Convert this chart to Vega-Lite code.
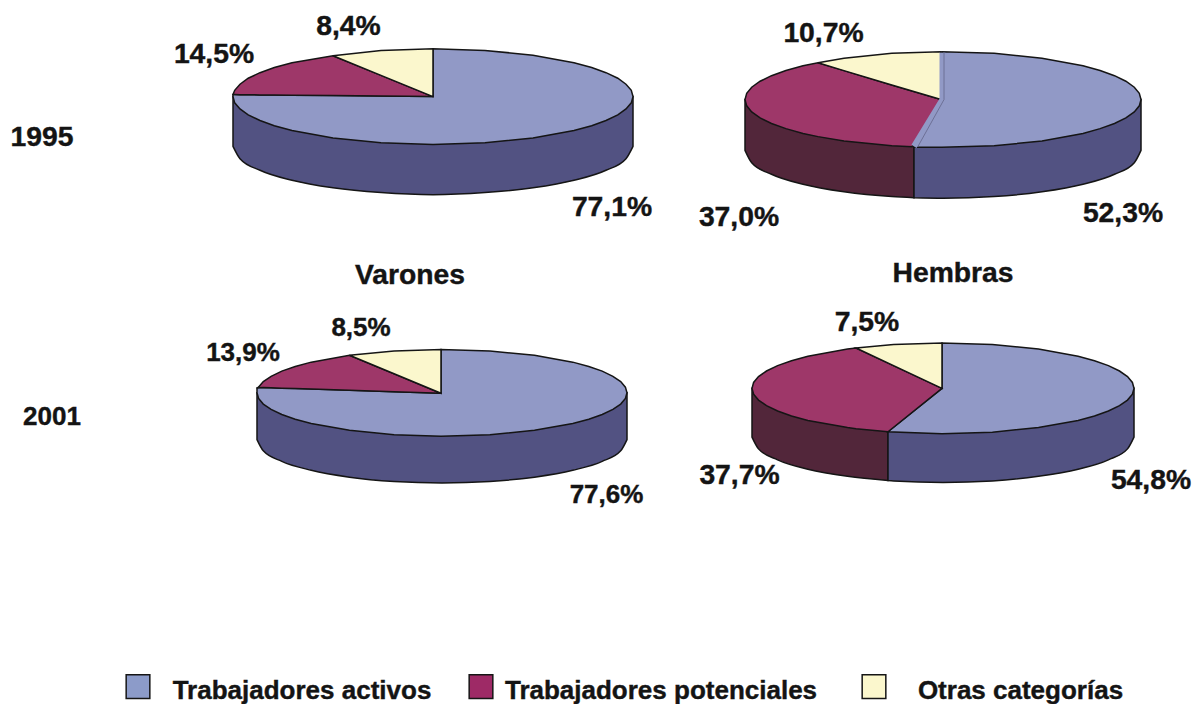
{"$schema":"https://vega.github.io/schema/vega-lite/v6.json","width":1193,"height":704,"padding":0,"autosize":{"type":"fit","contains":"padding"},"background":"white","config":{"view":{"stroke":null}},
"datasets":{
"sides":[
{"s":"V95a","c":"lado activos","x":233,"y":97,"y2":147},{"s":"V95a","c":"lado activos","x":240,"y":97,"y2":159.4},{"s":"V95a","c":"lado activos","x":260,"y":97,"y2":171},{"s":"V95a","c":"lado activos","x":292,"y":97,"y2":181},{"s":"V95a","c":"lado activos","x":333,"y":97,"y2":188.6},{"s":"V95a","c":"lado activos","x":381,"y":97,"y2":193.4},{"s":"V95a","c":"lado activos","x":433,"y":97,"y2":195.5},{"s":"V95a","c":"lado activos","x":485,"y":97,"y2":193.4},{"s":"V95a","c":"lado activos","x":533,"y":97,"y2":188.6},{"s":"V95a","c":"lado activos","x":574,"y":97,"y2":181},{"s":"V95a","c":"lado activos","x":606,"y":97,"y2":171},{"s":"V95a","c":"lado activos","x":626,"y":97,"y2":159.4},{"s":"V95a","c":"lado activos","x":633,"y":97,"y2":147},
{"s":"H95p","c":"lado potenciales","x":745,"y":100,"y2":151},{"s":"H95p","c":"lado potenciales","x":751.7,"y":100,"y2":163.4},{"s":"H95p","c":"lado potenciales","x":771.5,"y":100,"y2":175},{"s":"H95p","c":"lado potenciales","x":803,"y":100,"y2":185},{"s":"H95p","c":"lado potenciales","x":844,"y":100,"y2":192.6},{"s":"H95p","c":"lado potenciales","x":891.8,"y":100,"y2":197.4},{"s":"H95p","c":"lado potenciales","x":914,"y":100,"y2":198.5},
{"s":"H95a","c":"lado activos","x":914,"y":100,"y2":198.5},{"s":"H95a","c":"lado activos","x":943,"y":100,"y2":199},{"s":"H95a","c":"lado activos","x":994.2,"y":100,"y2":197.4},{"s":"H95a","c":"lado activos","x":1042,"y":100,"y2":192.6},{"s":"H95a","c":"lado activos","x":1083,"y":100,"y2":185},{"s":"H95a","c":"lado activos","x":1114.5,"y":100,"y2":175},{"s":"H95a","c":"lado activos","x":1134.3,"y":100,"y2":163.4},{"s":"H95a","c":"lado activos","x":1141,"y":100,"y2":151},
{"s":"V01a","c":"lado activos","x":257,"y":394.5,"y2":441.5},{"s":"V01a","c":"lado activos","x":263.3,"y":394.5,"y2":452.8},{"s":"V01a","c":"lado activos","x":281.8,"y":394.5,"y2":463.3},{"s":"V01a","c":"lado activos","x":311.2,"y":394.5,"y2":472.3},{"s":"V01a","c":"lado activos","x":349.5,"y":394.5,"y2":479.2},{"s":"V01a","c":"lado activos","x":394.1,"y":394.5,"y2":483.5},{"s":"V01a","c":"lado activos","x":442,"y":394.5,"y2":485},{"s":"V01a","c":"lado activos","x":489.9,"y":394.5,"y2":483.5},{"s":"V01a","c":"lado activos","x":534.5,"y":394.5,"y2":479.2},{"s":"V01a","c":"lado activos","x":572.8,"y":394.5,"y2":472.3},{"s":"V01a","c":"lado activos","x":602.2,"y":394.5,"y2":463.3},{"s":"V01a","c":"lado activos","x":620.7,"y":394.5,"y2":452.8},{"s":"V01a","c":"lado activos","x":627,"y":394.5,"y2":441.5},
{"s":"H01p","c":"lado potenciales","x":752,"y":390,"y2":439},{"s":"H01p","c":"lado potenciales","x":758.5,"y":390,"y2":450.8},{"s":"H01p","c":"lado potenciales","x":777.6,"y":390,"y2":461.8},{"s":"H01p","c":"lado potenciales","x":807.9,"y":390,"y2":471.2},{"s":"H01p","c":"lado potenciales","x":847.5,"y":390,"y2":478.4},{"s":"H01p","c":"lado potenciales","x":888,"y":390,"y2":482.6},
{"s":"H01a","c":"lado activos","x":888,"y":390,"y2":482.6},{"s":"H01a","c":"lado activos","x":893.6,"y":390,"y2":483},{"s":"H01a","c":"lado activos","x":943,"y":390,"y2":484.5},{"s":"H01a","c":"lado activos","x":992.4,"y":390,"y2":483},{"s":"H01a","c":"lado activos","x":1038.5,"y":390,"y2":478.4},{"s":"H01a","c":"lado activos","x":1078.1,"y":390,"y2":471.2},{"s":"H01a","c":"lado activos","x":1108.4,"y":390,"y2":461.8},{"s":"H01a","c":"lado activos","x":1127.5,"y":390,"y2":450.8},{"s":"H01a","c":"lado activos","x":1134,"y":390,"y2":439}
],
"tops":[
{"s":"V95a","c":"Trabajadores activos","x":233,"y":95,"y2":97},{"s":"V95a","c":"Trabajadores activos","x":234.7,"y":95,"y2":103.3},{"s":"V95a","c":"Trabajadores activos","x":240,"y":95.1,"y2":109.4},{"s":"V95a","c":"Trabajadores activos","x":248.2,"y":95.2,"y2":115.4},{"s":"V95a","c":"Trabajadores activos","x":260,"y":95.3,"y2":121},{"s":"V95a","c":"Trabajadores activos","x":274.3,"y":95.4,"y2":126.2},{"s":"V95a","c":"Trabajadores activos","x":292,"y":95.6,"y2":131},{"s":"V95a","c":"Trabajadores activos","x":333,"y":96,"y2":138.6},{"s":"V95a","c":"Trabajadores activos","x":381,"y":96.5,"y2":143.4},{"s":"V95a","c":"Trabajadores activos","x":433,"y":97,"y2":145},{"s":"V95a","c":"Trabajadores activos","x":433,"y":49,"y2":145},{"s":"V95a","c":"Trabajadores activos","x":485,"y":50.6,"y2":143.4},{"s":"V95a","c":"Trabajadores activos","x":533,"y":55.4,"y2":138.6},{"s":"V95a","c":"Trabajadores activos","x":574,"y":63,"y2":131},{"s":"V95a","c":"Trabajadores activos","x":591.7,"y":67.8,"y2":126.2},{"s":"V95a","c":"Trabajadores activos","x":606,"y":73,"y2":121},{"s":"V95a","c":"Trabajadores activos","x":617.8,"y":78.6,"y2":115.4},{"s":"V95a","c":"Trabajadores activos","x":626,"y":84.6,"y2":109.4},{"s":"V95a","c":"Trabajadores activos","x":631.3,"y":90.7,"y2":103.3},{"s":"V95a","c":"Trabajadores activos","x":633,"y":97,"y2":97},
{"s":"V95p","c":"Trabajadores potenciales","x":233,"y":95,"y2":95},{"s":"V95p","c":"Trabajadores potenciales","x":234.7,"y":90.7,"y2":95},{"s":"V95p","c":"Trabajadores potenciales","x":240,"y":84.6,"y2":95.1},{"s":"V95p","c":"Trabajadores potenciales","x":248.2,"y":78.6,"y2":95.2},{"s":"V95p","c":"Trabajadores potenciales","x":260,"y":73,"y2":95.3},{"s":"V95p","c":"Trabajadores potenciales","x":274.3,"y":67.8,"y2":95.4},{"s":"V95p","c":"Trabajadores potenciales","x":292,"y":63,"y2":95.6},{"s":"V95p","c":"Trabajadores potenciales","x":333,"y":56,"y2":96},{"s":"V95p","c":"Trabajadores potenciales","x":381,"y":75.7,"y2":96.5},{"s":"V95p","c":"Trabajadores potenciales","x":433,"y":97,"y2":97},
{"s":"V95o","c":"Otras categorías","x":333,"y":56,"y2":56},{"s":"V95o","c":"Otras categorías","x":381,"y":50.6,"y2":75.7},{"s":"V95o","c":"Otras categorías","x":433,"y":49,"y2":97},
{"s":"H95a","c":"Trabajadores activos","x":914,"y":148,"y2":148},{"s":"H95a","c":"Trabajadores activos","x":942,"y":100,"y2":148},{"s":"H95a","c":"Trabajadores activos","x":942,"y":52,"y2":148},{"s":"H95a","c":"Trabajadores activos","x":994.2,"y":53.6,"y2":146.4},{"s":"H95a","c":"Trabajadores activos","x":1042,"y":58.4,"y2":141.6},{"s":"H95a","c":"Trabajadores activos","x":1083,"y":66,"y2":134},{"s":"H95a","c":"Trabajadores activos","x":1100.1,"y":70.8,"y2":129.2},{"s":"H95a","c":"Trabajadores activos","x":1114.5,"y":76,"y2":124},{"s":"H95a","c":"Trabajadores activos","x":1125.9,"y":81.6,"y2":118.4},{"s":"H95a","c":"Trabajadores activos","x":1134.3,"y":87.6,"y2":112.4},{"s":"H95a","c":"Trabajadores activos","x":1139.3,"y":93.7,"y2":106.3},{"s":"H95a","c":"Trabajadores activos","x":1141,"y":100,"y2":100},
{"s":"H95p","c":"Trabajadores potenciales","x":745,"y":100,"y2":100},{"s":"H95p","c":"Trabajadores potenciales","x":746.7,"y":93.7,"y2":106.3},{"s":"H95p","c":"Trabajadores potenciales","x":751.7,"y":87.6,"y2":112.4},{"s":"H95p","c":"Trabajadores potenciales","x":760.1,"y":81.6,"y2":118.4},{"s":"H95p","c":"Trabajadores potenciales","x":771.5,"y":76,"y2":124},{"s":"H95p","c":"Trabajadores potenciales","x":785.9,"y":70.8,"y2":129.2},{"s":"H95p","c":"Trabajadores potenciales","x":803,"y":66,"y2":134},{"s":"H95p","c":"Trabajadores potenciales","x":818,"y":63,"y2":137.2},{"s":"H95p","c":"Trabajadores potenciales","x":844,"y":70.9,"y2":141.6},{"s":"H95p","c":"Trabajadores potenciales","x":891.8,"y":85.3,"y2":146.4},{"s":"H95p","c":"Trabajadores potenciales","x":912,"y":91.4,"y2":147.4},{"s":"H95p","c":"Trabajadores potenciales","x":941,"y":100,"y2":100},
{"s":"H95o","c":"Otras categorías","x":818,"y":63,"y2":63},{"s":"H95o","c":"Otras categorías","x":844,"y":58.4,"y2":70.9},{"s":"H95o","c":"Otras categorías","x":891.8,"y":53.6,"y2":85.3},{"s":"H95o","c":"Otras categorías","x":941,"y":52,"y2":100},
{"s":"V01a","c":"Trabajadores activos","x":257,"y":389.5,"y2":394.5},{"s":"V01a","c":"Trabajadores activos","x":258.6,"y":389.2,"y2":400.2},{"s":"V01a","c":"Trabajadores activos","x":263.3,"y":389.1,"y2":405.8},{"s":"V01a","c":"Trabajadores activos","x":271.1,"y":389.4,"y2":411.1},{"s":"V01a","c":"Trabajadores activos","x":281.8,"y":389.8,"y2":416.3},{"s":"V01a","c":"Trabajadores activos","x":295.2,"y":390.2,"y2":421},{"s":"V01a","c":"Trabajadores activos","x":311.2,"y":390.7,"y2":425.3},{"s":"V01a","c":"Trabajadores activos","x":349.5,"y":392,"y2":432.2},{"s":"V01a","c":"Trabajadores activos","x":394.1,"y":393.5,"y2":436.5},{"s":"V01a","c":"Trabajadores activos","x":441,"y":395,"y2":438},{"s":"V01a","c":"Trabajadores activos","x":441,"y":351,"y2":438},{"s":"V01a","c":"Trabajadores activos","x":489.9,"y":352.5,"y2":436.5},{"s":"V01a","c":"Trabajadores activos","x":534.5,"y":356.8,"y2":432.2},{"s":"V01a","c":"Trabajadores activos","x":572.8,"y":363.7,"y2":425.3},{"s":"V01a","c":"Trabajadores activos","x":588.8,"y":368,"y2":421},{"s":"V01a","c":"Trabajadores activos","x":602.2,"y":372.7,"y2":416.3},{"s":"V01a","c":"Trabajadores activos","x":612.9,"y":377.9,"y2":411.1},{"s":"V01a","c":"Trabajadores activos","x":620.7,"y":383.2,"y2":405.8},{"s":"V01a","c":"Trabajadores activos","x":625.4,"y":388.8,"y2":400.2},{"s":"V01a","c":"Trabajadores activos","x":627,"y":394.5,"y2":394.5},
{"s":"V01p","c":"Trabajadores potenciales","x":258,"y":389.5,"y2":389.5},{"s":"V01p","c":"Trabajadores potenciales","x":263.3,"y":383.2,"y2":389.1},{"s":"V01p","c":"Trabajadores potenciales","x":271.1,"y":377.9,"y2":389.4},{"s":"V01p","c":"Trabajadores potenciales","x":281.8,"y":372.7,"y2":389.8},{"s":"V01p","c":"Trabajadores potenciales","x":295.2,"y":368,"y2":390.2},{"s":"V01p","c":"Trabajadores potenciales","x":311.2,"y":363.7,"y2":390.7},{"s":"V01p","c":"Trabajadores potenciales","x":349.5,"y":356.8,"y2":392},{"s":"V01p","c":"Trabajadores potenciales","x":394.1,"y":375.4,"y2":393.5},{"s":"V01p","c":"Trabajadores potenciales","x":441,"y":395,"y2":395},
{"s":"V01o","c":"Otras categorías","x":349.5,"y":356.8,"y2":356.8},{"s":"V01o","c":"Otras categorías","x":394.1,"y":352.5,"y2":375.4},{"s":"V01o","c":"Otras categorías","x":441,"y":351,"y2":395},
{"s":"H01a","c":"Trabajadores activos","x":888,"y":433.6,"y2":433.6},{"s":"H01a","c":"Trabajadores activos","x":942,"y":390,"y2":435.5},{"s":"H01a","c":"Trabajadores activos","x":942,"y":344.5,"y2":435.5},{"s":"H01a","c":"Trabajadores activos","x":992.4,"y":346,"y2":434},{"s":"H01a","c":"Trabajadores activos","x":1038.5,"y":350.6,"y2":429.4},{"s":"H01a","c":"Trabajadores activos","x":1078.1,"y":357.8,"y2":422.2},{"s":"H01a","c":"Trabajadores activos","x":1094.5,"y":362.3,"y2":417.7},{"s":"H01a","c":"Trabajadores activos","x":1108.4,"y":367.2,"y2":412.8},{"s":"H01a","c":"Trabajadores activos","x":1119.5,"y":372.6,"y2":407.4},{"s":"H01a","c":"Trabajadores activos","x":1127.5,"y":378.2,"y2":401.8},{"s":"H01a","c":"Trabajadores activos","x":1132.4,"y":384.1,"y2":395.9},{"s":"H01a","c":"Trabajadores activos","x":1134,"y":390,"y2":390},
{"s":"H01p","c":"Trabajadores potenciales","x":752,"y":390,"y2":390},{"s":"H01p","c":"Trabajadores potenciales","x":753.6,"y":384.1,"y2":395.9},{"s":"H01p","c":"Trabajadores potenciales","x":758.5,"y":378.2,"y2":401.8},{"s":"H01p","c":"Trabajadores potenciales","x":766.5,"y":372.6,"y2":407.4},{"s":"H01p","c":"Trabajadores potenciales","x":777.6,"y":367.2,"y2":412.8},{"s":"H01p","c":"Trabajadores potenciales","x":791.5,"y":362.3,"y2":417.7},{"s":"H01p","c":"Trabajadores potenciales","x":807.9,"y":357.8,"y2":422.2},{"s":"H01p","c":"Trabajadores potenciales","x":847.5,"y":350.6,"y2":429.4},{"s":"H01p","c":"Trabajadores potenciales","x":856,"y":349.5,"y2":430.5},{"s":"H01p","c":"Trabajadores potenciales","x":888,"y":364.6,"y2":433.6},{"s":"H01p","c":"Trabajadores potenciales","x":942,"y":390,"y2":390},
{"s":"H01o","c":"Otras categorías","x":856,"y":349.5,"y2":349.5},{"s":"H01o","c":"Otras categorías","x":893.6,"y":346,"y2":367.2},{"s":"H01o","c":"Otras categorías","x":942,"y":344.5,"y2":390}
],
"franja":[{"x":914,"y":147},{"x":942.5,"y":100},{"x":942.5,"y":53}],
"linea":[{"x":918,"y":147},{"x":944,"y":100},{"x":944,"y":53}],
"labelsGrandes":[
{"t":"8,4%","x":348.5,"y":35},{"t":"14,5%","x":214,"y":63},{"t":"77,1%","x":612,"y":217},{"t":"1995","x":42,"y":147},
{"t":"10,7%","x":823.5,"y":42},{"t":"37,0%","x":739,"y":227},{"t":"52,3%","x":1123,"y":223},
{"t":"Varones","x":410,"y":285},{"t":"Hembras","x":953,"y":283},
{"t":"7,5%","x":867,"y":332},{"t":"37,7%","x":739.5,"y":486},{"t":"54,8%","x":1151,"y":491}
],
"labelsMedios":[
{"t":"13,9%","x":243,"y":363},{"t":"8,5%","x":361,"y":337},{"t":"2001","x":52,"y":427},{"t":"77,6%","x":606.5,"y":505},
{"t":"Trabajadores activos","x":302,"y":702},{"t":"Trabajadores potenciales","x":661,"y":702},{"t":"Otras categorías","x":1020.5,"y":702}
],
"legend":[
{"c":"Trabajadores activos","x":138,"y":689.5},{"c":"Trabajadores potenciales","x":481,"y":689.5},{"c":"Otras categorías","x":874,"y":689.5}
]},
"layer":[
{"data":{"name":"sides"},"mark":{"type":"area","interpolate":"monotone","stroke":"#151515","strokeWidth":1.5,"clip":false},
"encoding":{"x":{"field":"x","type":"quantitative","scale":{"domain":[0,1193],"nice":false,"zero":false},"axis":null},"y":{"field":"y","type":"quantitative","stack":null,"scale":{"domain":[0,704],"reverse":true,"nice":false,"zero":false},"axis":null},"y2":{"field":"y2"},"detail":{"field":"s"},"color":{"field":"c","type":"nominal","legend":null,"scale":{"domain":["Trabajadores activos","Trabajadores potenciales","Otras categorías","lado activos","lado potenciales"],"range":["#9199c6","#9e3769","#fbf7cd","#525282","#52263a"]}}}},
{"data":{"name":"tops"},"mark":{"type":"area","stroke":"#151515","strokeWidth":1.5,"clip":false},
"encoding":{"x":{"field":"x","type":"quantitative"},"y":{"field":"y","type":"quantitative","stack":null},"y2":{"field":"y2"},"detail":{"field":"s"},"color":{"field":"c","type":"nominal"}}},
{"data":{"name":"franja"},"mark":{"type":"line","stroke":"#9199c6","strokeWidth":6,"clip":false},
"encoding":{"x":{"field":"x","type":"quantitative"},"y":{"field":"y","type":"quantitative"}}},
{"data":{"name":"linea"},"mark":{"type":"line","stroke":"#6d7096","strokeWidth":1,"clip":false},
"encoding":{"x":{"field":"x","type":"quantitative"},"y":{"field":"y","type":"quantitative"}}},
{"data":{"name":"legend"},"mark":{"type":"point","shape":"square","filled":true,"size":560,"stroke":"#151515","strokeWidth":1.5,"opacity":1},
"encoding":{"x":{"field":"x","type":"quantitative"},"y":{"field":"y","type":"quantitative"},"fill":{"field":"c","type":"nominal","legend":null,"scale":{"domain":["Trabajadores activos","Trabajadores potenciales","Otras categorías"],"range":["#8c9bc9","#9e2a66","#fbf7cd"]}}}},
{"data":{"name":"labelsGrandes"},"mark":{"type":"text","font":"Liberation Sans","fontWeight":"bold","fontSize":28.3,"align":"center","baseline":"alphabetic","color":"#141414","stroke":"#141414","strokeWidth":0.4},
"encoding":{"x":{"field":"x","type":"quantitative"},"y":{"field":"y","type":"quantitative"},"text":{"field":"t"}}},
{"data":{"name":"labelsMedios"},"mark":{"type":"text","font":"Liberation Sans","fontWeight":"bold","fontSize":26,"align":"center","baseline":"alphabetic","color":"#141414","stroke":"#141414","strokeWidth":0.4},
"encoding":{"x":{"field":"x","type":"quantitative"},"y":{"field":"y","type":"quantitative"},"text":{"field":"t"}}}
]}
